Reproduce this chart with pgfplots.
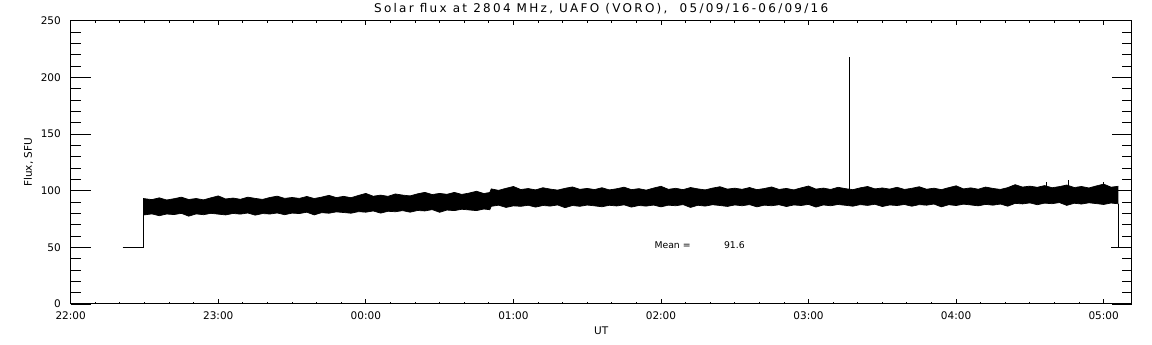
\documentclass[border=0pt]{standalone}
\usepackage{fontspec}
\setmainfont{DejaVu Sans}
\usepackage{pgfplots}
\pgfplotsset{compat=1.18}
\usepgfplotslibrary{fillbetween}
\usepackage{pgfplotstable}

% time in hours after 22:00 UT; t = upper edge of the noise band, b = lower edge (SFU)
\pgfplotstableread{
x t b
0.492 93.1 78.5
0.55 92.1 79.5
0.60 93.7 77.9
0.65 91.8 79.4
0.70 92.9 78.9
0.75 94.3 80.0
0.80 92.2 77.5
0.85 93.1 79.5
0.90 91.9 78.8
0.95 93.7 80.0
1.00 95.4 79.3
1.05 92.7 78.6
1.10 93.5 79.9
1.15 92.4 79.3
1.20 94.3 80.3
1.25 93.2 78.4
1.30 92.3 79.8
1.35 94.0 79.4
1.40 95.2 80.3
1.45 93.2 78.8
1.50 94.0 80.2
1.55 93.2 79.8
1.60 94.9 81.0
1.65 93.1 78.6
1.70 94.3 80.6
1.75 95.9 80.1
1.80 93.9 81.3
1.85 95.0 80.7
1.90 93.8 80.1
1.95 95.8 81.5
2.00 97.6 81.0
2.05 95.1 82.1
2.10 96.1 80.2
2.15 95.0 81.8
2.20 97.1 81.4
2.25 96.1 82.4
2.30 95.4 81.0
2.35 97.2 82.5
2.40 98.5 82.1
2.45 96.6 83.3
2.50 97.6 80.9
2.55 96.8 82.9
2.60 98.5 82.4
2.65 96.7 83.6
2.70 97.9 83.0
2.75 99.5 82.4
2.80 97.5 83.8
2.84 98.4 83.2
2.85 101.6 86.2
2.90 100.3 87.2
2.95 102.1 85.2
3.00 103.7 86.6
3.05 101.0 86.2
3.10 101.9 87.1
3.15 100.7 85.5
3.20 102.6 86.9
3.25 101.4 86.4
3.30 100.5 87.4
3.35 102.1 85.0
3.40 103.3 86.9
3.45 101.2 86.2
3.50 102.0 87.3
3.55 101.0 86.6
3.60 102.6 85.8
3.65 100.7 87.1
3.70 101.7 86.5
3.75 103.1 87.5
3.80 100.9 85.5
3.85 101.8 86.9
3.90 100.5 86.4
3.95 102.3 87.3
4.00 103.9 85.7
4.05 101.2 87.2
4.10 102.1 86.7
4.15 100.9 87.7
4.20 102.8 85.2
4.25 101.6 87.1
4.30 100.7 86.4
4.35 102.3 87.6
4.40 103.5 86.9
4.45 101.4 86.1
4.50 102.2 87.4
4.55 101.2 86.7
4.60 102.8 87.7
4.65 100.9 85.7
4.70 101.9 87.2
4.75 103.3 86.7
4.80 101.1 87.6
4.85 102.0 86.0
4.90 100.7 87.4
4.95 102.5 86.9
5.00 104.1 87.9
5.05 101.4 85.5
5.10 102.3 87.4
5.15 101.1 86.7
5.20 103.0 87.8
5.25 101.8 87.1
5.30 100.9 86.3
5.35 102.5 87.7
5.40 103.7 87.0
5.45 101.6 88.0
5.50 102.4 86.0
5.55 101.4 87.4
5.60 103.0 86.9
5.65 101.1 87.8
5.70 102.1 86.3
5.75 103.5 87.7
5.80 101.3 87.2
5.85 102.2 88.2
5.90 100.9 85.7
5.95 102.7 87.6
6.00 104.3 86.9
6.05 101.6 88.1
6.10 102.5 87.4
6.15 101.3 86.6
6.20 103.2 87.9
6.25 102.0 87.2
6.30 101.1 88.2
6.35 102.7 86.3
6.40 105.3 88.8
6.45 103.2 88.3
6.50 104.0 89.2
6.55 103.0 87.6
6.60 104.5 89.0
6.65 102.6 88.5
6.70 103.6 89.5
6.75 105.0 87.0
6.80 102.8 88.9
6.85 103.7 88.2
6.90 102.4 89.3
6.95 104.2 88.6
7.00 105.8 87.8
7.05 103.1 89.1
7.10 103.9 88.4
}\band

\begin{document}
\begin{tikzpicture}
\pgfplotsset{
  common/.style={
    scale only axis, width=1061pt, height=283.3pt,
    xmin=0, xmax=7.19, ymin=0, ymax=250,
    at={(0pt,0pt)}, anchor=south west,
    axis line style={black, line width=1pt},
    every tick/.style={black, line width=0.9pt},
    tick align=inside,
    every tick label/.append style={font=\fontsize{10.5}{12}\selectfont},
    /pgf/number format/assume math mode=true,
    clip=false,
  }
}
\begin{axis}[common,
  xtick={0,1,2,3,4,5,6,7},
  xticklabels={22:00,23:00,00:00,01:00,02:00,03:00,04:00,05:00},
  minor x tick num=5,
  xtick pos=both,
  ytick=\empty,
  major tick length=4.5pt, minor tick length=2pt,
  xticklabel style={inner sep=0pt, anchor=north, yshift=-7.7pt},
  xlabel={UT},
  xlabel style={font=\fontsize{10.5}{12}\selectfont, at={(axis description cs:0.5,0)}, anchor=north, inner sep=0pt, yshift=-22.5pt},
  title={Solar flux at 2804 MHz, UAFO (VORO),\ \ 05/09/16-06/09/16},
  title style={font=\fontsize{12}{14}\selectfont\addfontfeatures{LetterSpace=19}, at={(axis description cs:0.5,1)}, anchor=base, inner sep=0pt, yshift=2pt},
]
\addplot[name path=top, black, line width=0.7pt] table[x=x, y=t]{\band};
\addplot[name path=bot, black, line width=0.7pt] table[x=x, y=b]{\band};
\addplot[black] fill between[of=top and bot];
% flat level before start and jump onto the band
\addplot[black, line width=1pt] coordinates {(0.352,50) (0.492,50) (0.492,93.1)};
% drop at the end
\addplot[black, line width=1pt] coordinates {(7.10,88.4) (7.10,50) (7.05,50)};
% isolated spikes
\addplot[black, line width=1pt] coordinates {(5.28,101.5) (5.28,218)};
\addplot[black, line width=0.9pt] coordinates {(6.61,103) (6.61,107.5)};
\addplot[black, line width=0.9pt] coordinates {(6.76,103) (6.76,109.5)};
\addplot[black, line width=0.9pt] coordinates {(7.00,103) (7.00,107.5)};
\node[anchor=base west, inner sep=0pt, font=\fontsize{9.3}{11}\selectfont] at (axis cs:3.955,48.9) {Mean =};
\node[anchor=base east, inner sep=0pt, font=\fontsize{9.3}{11}\selectfont] at (axis cs:4.569,48.9) {91.6};
\end{axis}
\begin{axis}[common,
  xtick=\empty,
  ytick={0,50,100,150,200,250},
  minor y tick num=4,
  ytick pos=both,
  major tick length=20pt, minor tick length=10pt,
  yticklabel style={inner sep=0pt, anchor=east, xshift=-9.7pt},
  ylabel={Flux, SFU},
  ylabel style={font=\fontsize{10.5}{12}\selectfont, at={(axis description cs:-0.0353,0.5)}, anchor=south, inner sep=0pt},
]
\end{axis}
\pgfresetboundingbox
\useasboundingbox (-70.7pt,-41pt) rectangle (1081.3pt,304pt);
\end{tikzpicture}
\end{document}
